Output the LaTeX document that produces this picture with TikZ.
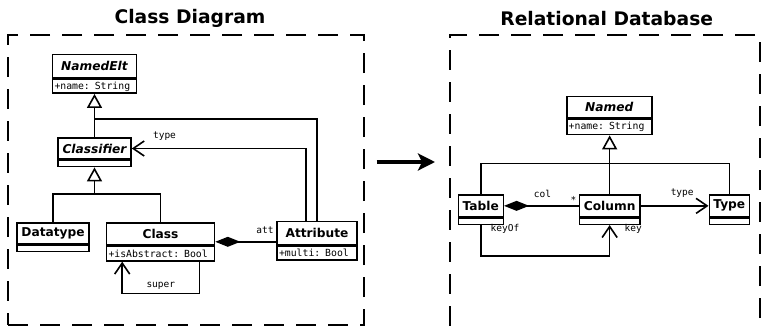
\documentclass[tikz,border=0pt]{standalone}
\usepackage{fontspec}
\setmainfont{DejaVu Sans}
\setmonofont{DejaVu Sans Mono}
\usetikzlibrary{arrows.meta,calc}

\tikzset{
  umlline/.style={line width=1.6pt, line join=miter},
  cname/.style={draw, umlline, inner sep=0pt, fill=white,
    font=\fontsize{12.2}{14}\selectfont\bfseries},
  cattr/.style={draw, umlline, inner xsep=2pt, inner ysep=0pt, anchor=north,
    align=left, font=\fontsize{9.8}{11}\selectfont\ttfamily},
  lbl/.style={inner sep=0pt, anchor=base, font=\fontsize{9.5}{11}\selectfont\ttfamily},
  gen/.style={umlline, -{Triangle[open, length=14pt, width=15pt]}},
  assoc/.style={umlline, -{Straight Barb[length=11pt, width=15pt]}},
  comp/.style={umlline, {Diamond[length=25pt, width=10pt]}-},
  frame/.style={draw, line width=2pt, dash pattern=on 20pt off 12pt, inner sep=0pt},
  title/.style={inner sep=0pt, anchor=base, font=\fontsize{18.7}{22}\selectfont\bfseries},
  bigarrow/.style={line width=4.5pt, -{Stealth[length=17pt, width=17pt, inset=4pt]}}
}

\begin{document}
\begin{tikzpicture}[x=1pt, y=-1pt]
\useasboundingbox (0,0) rectangle (762,327);
\clip (0,0) rectangle (762,327);

% ---------- frames and titles ----------
\node[frame, minimum width=356pt, minimum height=290pt] (cdframe) at (186,180) {};
\node[frame, minimum width=310pt, minimum height=325pt] (rdframe) at (605,197.5) {};
\node[title] (cdtitle) at (190,23) {Class Diagram};
\node[title] (rdtitle) at (606.7,25) {Relational Database};

% ---------- class diagram ----------
\node[cname, minimum width=84pt, minimum height=23.5pt] (ne) at (94.5,66.25) {\itshape NamedElt};
\node[cattr, minimum width=84pt, text width=80pt, minimum height=13.5pt] (nea) at (ne.south) {+name: String};

\node[cname, minimum width=73pt, minimum height=21pt] (clsf) at (94.5,148.5) {\itshape Classifier};
\node[cattr, minimum width=73pt, text width=69pt, minimum height=6pt] (clsfa) at (clsf.south) {};

\node[cname, minimum width=72pt, minimum height=21pt] (dt) at (53,233.5) {Datatype};
\node[cattr, minimum width=72pt, text width=68pt, minimum height=6pt] (dta) at (dt.south) {};

\node[cname, minimum width=108pt, minimum height=21.5pt] (cl) at (160.5,234) {Class};
\node[cattr, minimum width=108pt, text width=104pt, minimum height=14.5pt] (cla) at (cl.south) {+isAbstract: Bool};

\node[cname, minimum width=80pt, minimum height=23pt] (at) at (317,233) {Attribute};
\node[cattr, minimum width=80pt, text width=76pt, minimum height=14pt] (ata) at (at.south) {+multi: Bool};

% generalizations
\coordinate (g1) at (94.5,119);
\coordinate (g2) at (94.5,194);
\draw[gen] (clsf.north) -- (clsf.north |- nea.south);
\draw[umlline] (at.north) |- (g1);
\draw[gen] (g2) -- (clsfa.south);
\draw[umlline] (dt.north) |- (g2) -| (cl.north);

% Attribute.type -> Classifier
\draw[assoc] ($(at.north)+(-11,0)$) |- (clsf.east);
\node[lbl] at (164.5,138.5) {type};

% Class <>-- Attribute
\path ($(at.south west)+(0,-3.5)$) coordinate (c1);
\draw[comp] (c1 -| cl.east) -- (c1);
\node[lbl] at (265,233) {att};

% Class.super
\draw[assoc] ($(cla.south east)+(-16,0)$) -- ++(0,32) -| ($(cla.south west)+(16.5,0)$);
\node[lbl] at (160.8,287) {super};

% ---------- transformation arrow ----------
\coordinate (tA) at (376.5,162);
\coordinate (tB) at (435,162);
\draw[bigarrow] (tA) -- (tB);

% ---------- relational database ----------
\node[cname, minimum width=85pt, minimum height=21.5pt] (nm) at (609.2,107.25) {\itshape Named};
\node[cattr, minimum width=85pt, text width=81pt, minimum height=15pt] (nma) at (nm.south) {+name: String};

\node[cname, minimum width=45pt, minimum height=21.7pt] (tb) at (480.8,205.85) {Table};
\node[cattr, minimum width=45pt, text width=41pt, minimum height=6pt] (tba) at (tb.south) {};

\node[cname, minimum width=60.7pt, minimum height=21.7pt] (co) at (609.65,205.85) {Column};
\node[cattr, minimum width=60.7pt, text width=56.7pt, minimum height=6pt] (coa) at (co.south) {};

\node[cname, minimum width=40pt, minimum height=21.7pt] (ty) at (729.3,205.85) {Type};
\node[cattr, minimum width=40pt, text width=36pt, minimum height=6pt] (tya) at (ty.south) {};

% generalizations
\coordinate (g3) at (609.65,163.5);
\draw[gen] (co.north) -- (co.north |- nma.south);
\draw[umlline] (tb.north) |- (g3) -| (ty.north);

% Table <>-- Column
\draw[comp] (tb.east) -- (co.west);
\node[lbl] at (542.5,197.3) {col};
\node[lbl] at (573.5,203.5) {*};

% Column.type -> Type
\draw[assoc] (co.east) -- (ty.west);
\node[lbl] at (682.2,195) {type};

% Table.key -> Column
\draw[assoc] (tba.south) -- ++(0,31) -| (coa.south);
\node[lbl] at (505,231.5) {keyOf};
\node[lbl] at (633.3,231) {key};
\end{tikzpicture}
\end{document}
